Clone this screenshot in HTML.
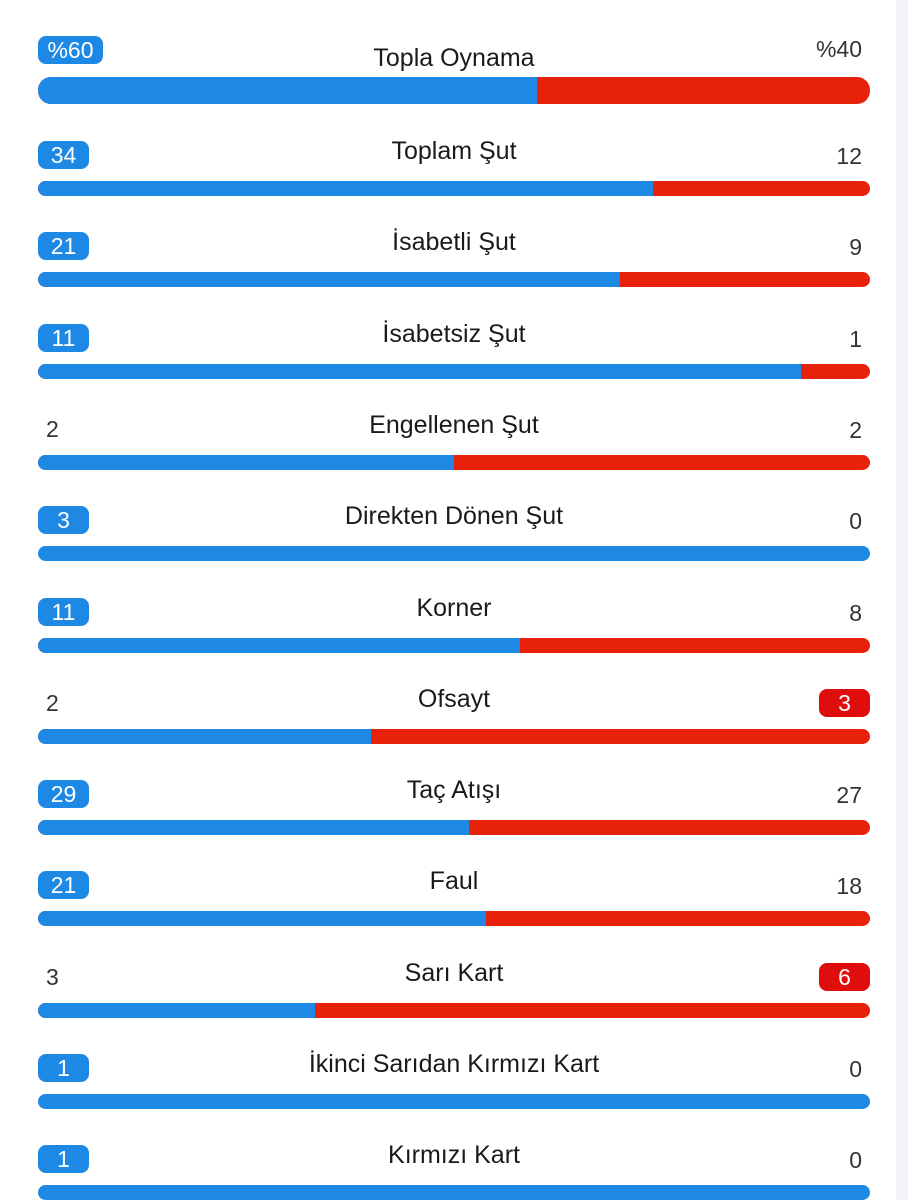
<!DOCTYPE html>
<html><head><meta charset="utf-8"><style>
body{margin:0;width:908px;height:1200px;background:#fff;position:relative;overflow:hidden;font-family:"Liberation Sans",sans-serif}
#strip{position:absolute;right:0;top:0;width:12px;height:1200px;background:#f3f5f8}
.t{position:absolute;left:0;width:908px;text-align:center;font-size:25px;color:#1a1a1a}
.n{position:absolute;font-size:23px;color:#333;line-height:28px}
.b{position:absolute;height:28px;line-height:29px;border-radius:8px;color:#fff;text-align:center;font-size:23px}
.bar{position:absolute;border-radius:8px;overflow:hidden;background:#e8220a}
.bar div{height:100%;background:#1e88e5}
</style></head><body>
<div id="strip"></div>
<div id="root"></div>
<script>
const labels=["Topla Oynama","Toplam Şut","İsabetli Şut","İsabetsiz Şut","Engellenen Şut","Direkten Dönen Şut","Korner","Ofsayt","Taç Atışı","Faul","Sarı Kart","İkinci Sarıdan Kırmızı Kart","Kırmızı Kart"];
const home=[60,34,21,11,2,3,11,2,29,21,3,1,1];
const away=[40,12,9,1,2,0,8,3,27,18,6,0,0];
const root=document.getElementById('root');
const X0=38,W=832;
function rowY(i){return i===0?0:91.3*(i-1)+91;}
labels.forEach((lab,i)=>{
  const y0=rowY(i);
  const pct=i===0;
  const t=document.createElement('div');t.className='t';t.textContent=lab;
  t.style.top=(y0+(pct?44:46))+'px';
  
  
  root.appendChild(t);
  const by=y0+(pct?36:50);
  const hv=(pct?'%':'')+home[i], av=(pct?'%':'')+away[i];
  const h=document.createElement('div');h.textContent=hv;
  
  
  if(home[i]>away[i]){h.className='b';h.style.background='#1e88e5';h.style.left=X0+'px';h.style.width=(hv.length>2?65:51)+'px';h.style.top=by+'px';}
  else{h.className='n';h.style.left='46px';h.style.top=by+'px';}
  root.appendChild(h);
  const a=document.createElement('div');a.textContent=av;
  
  
  if(away[i]>home[i]){a.className='b';a.style.background='#e00d0d';a.style.left=(870-51)+'px';a.style.width='51px';a.style.top=by+'px';}
  else{a.className='n';a.style.right=(908-862)+'px';a.style.top=(by+(pct?-1:1))+'px';}
  root.appendChild(a);
  const bar=document.createElement('div');bar.className='bar';
  
  
  bar.style.left=X0+'px';bar.style.width=W+'px';
  bar.style.top=(y0+(pct?77:90))+'px';bar.style.height=(pct?27:15)+'px';
  if(pct)bar.style.borderRadius='13px';
  const tot=home[i]+away[i];
  const f=document.createElement('div');f.style.width=(tot?home[i]/tot*100:50)+'%';
  
  
  bar.appendChild(f);root.appendChild(bar);
});
</script>
</body></html>
